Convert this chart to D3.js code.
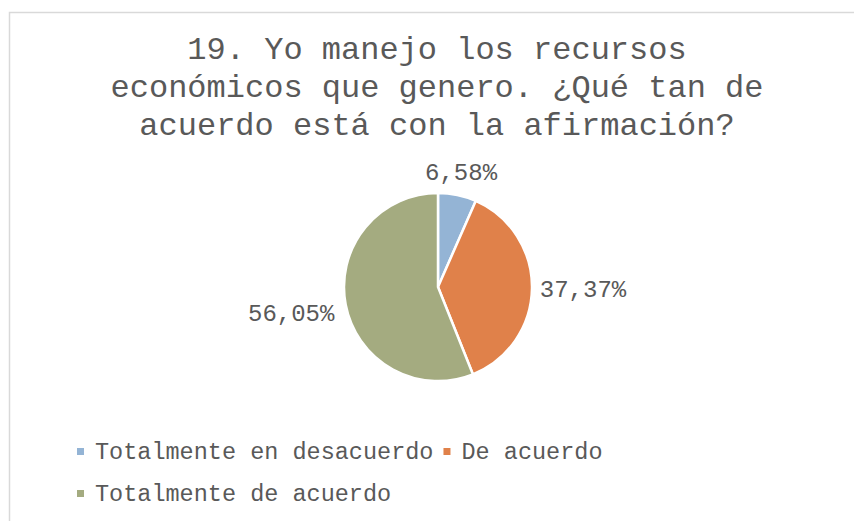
<!DOCTYPE html>
<html>
<head>
<meta charset="utf-8">
<script src="https://cdn.jsdelivr.net/npm/d3@7"></script>
<style>
  body { margin: 0; background: #fff; }
  svg text { font-family: "Liberation Mono", "DejaVu Sans Mono", monospace; fill: #595959; }
</style>
</head>
<body>
<div id="chart"></div>
<script>
// data
var categories = ["Totalmente en desacuerdo", "De acuerdo", "Totalmente de acuerdo"];
var values = [6.58, 37.37, 56.05];
var labels = ["6,58%", "37,37%", "56,05%"];
var colors = ["#94b4d5", "#e0814a", "#a4ab80"];
var titleLines = ["19. Yo manejo los recursos", "económicos que genero. ¿Qué tan de", "acuerdo está con la afirmación?"];

var width = 854, height = 521;
var cx = 438, cy = 287, radius = 94;

var svg = d3.select("#chart").append("svg")
    .attr("width", width)
    .attr("height", height);

// chart frame
svg.append("rect")
    .attr("x", 9.5).attr("y", 12.5)
    .attr("width", 900).attr("height", 600)
    .attr("fill", "#fff")
    .attr("stroke", "#d9d9d9")
    .attr("stroke-width", 1.5);

svg.selectAll("text.title")
    .data(titleLines)
    .enter().append("text")
    .attr("class", "title")
    .attr("x", 437)
    .attr("y", function(d, i) { return 59 + i * 38; })
    .attr("text-anchor", "middle")
    .style("font-size", "32px")
    .text(function(d) { return d; });

var pie = d3.pie().sort(null).value(function(d) { return d; });
var arcs = pie(values);
var arc = d3.arc().innerRadius(0).outerRadius(radius);

var g = svg.append("g").attr("transform", "translate(" + cx + "," + cy + ")");

g.selectAll("path")
    .data(arcs)
    .enter().append("path")
    .attr("d", arc)
    .attr("fill", function(d, i) { return colors[i]; })
    .attr("stroke", "#fff")
    .attr("stroke-width", 2.5)
    .attr("stroke-linejoin", "round");

// data labels, just outside the pie
var labelArc = d3.arc().innerRadius(radius + 28).outerRadius(radius + 28);
g.selectAll("text.lbl")
    .data(arcs)
    .enter().append("text")
    .attr("class", "lbl")
    .attr("transform", function(d, i) {
        var p = labelArc.centroid(d);
        if (i === 0) { p = [p[0] - 2, p[1] + 4]; }
        if (i === 1) { p = [p[0] + 23, p[1]]; }
        if (i === 2) { p = [p[0] - 27, p[1] + 3]; }
        return "translate(" + p[0] + "," + p[1] + ")";
    })
    .attr("dy", "0.35em")
    .attr("text-anchor", "middle")
    .style("font-size", "24px")
    .text(function(d, i) { return labels[i]; });

// legend
var legend = svg.append("g");
var lx = 77, ly = 451, rowH = 42;
categories.forEach(function(c, i) {
    var item = legend.append("g");
    item.append("rect")
        .attr("width", 7).attr("height", 7)
        .attr("y", -3)
        .attr("fill", colors[i]);
    var t = item.append("text")
        .attr("x", 18)
        .attr("dy", "0.35em")
        .style("font-size", "23.5px")
        .text(c);
    var w = 18 + t.node().getComputedTextLength() + 10;
    if (lx + w > 640 && lx > 77) { lx = 77; ly += rowH; }
    item.attr("transform", "translate(" + lx + "," + ly + ")");
    lx += w;
});
</script>
</body>
</html>
